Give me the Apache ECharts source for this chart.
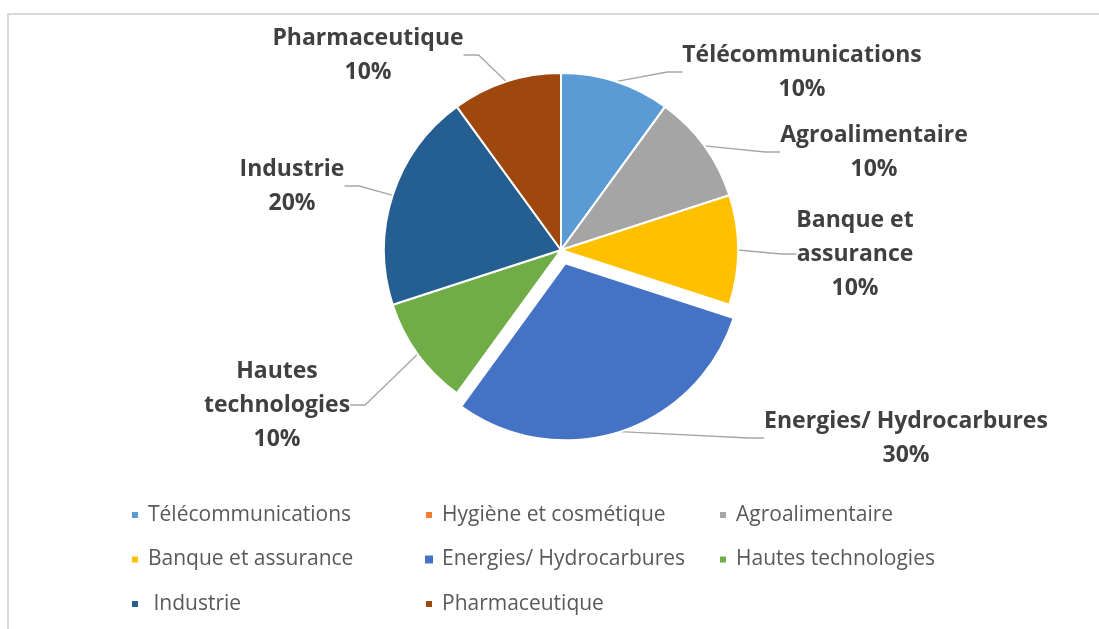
<!DOCTYPE html>
<html>
<head>
<meta charset="utf-8">
<script src="https://cdn.jsdelivr.net/npm/echarts@6/dist/echarts.min.js"></script>
<style>
  html, body { margin: 0; padding: 0; background: #fff; }
  #chart { width: 1099px; height: 629px; }
</style>
</head>
<body>
<div id="chart"></div>
<script>
// données
const categories = ['Télécommunications', 'Hygiène et cosmétique', 'Agroalimentaire',
  'Banque et assurance', 'Energies/ Hydrocarbures', 'Hautes technologies',
  'Industrie', 'Pharmaceutique'];
const shares = [10, 0, 10, 10, 30, 10, 20, 10];
const colors = ['#5B9BD5', '#ED7D31', '#A5A5A5', '#FFC000', '#4472C4', '#70AD47', '#255E91', '#9E480E'];
// libellés coupés sur plusieurs lignes
const wrapped = {
  'Banque et assurance': 'Banque et\nassurance',
  'Hautes technologies': 'Hautes\ntechnologies'
};
const exploded = 'Energies/ Hydrocarbures';

// position des étiquettes (centre du bloc de texte)
const labelPos = {
  'Télécommunications': [802, 72],
  'Agroalimentaire': [874, 152],
  'Banque et assurance': [855, 254],
  'Energies/ Hydrocarbures': [906, 438],
  'Hautes technologies': [277, 405],
  'Industrie': [292, 186],
  'Pharmaceutique': [368, 55]
};

// colonnes de la légende
const legendCols = [
  { left: 130, names: ['Télécommunications', 'Banque et assurance', 'Industrie'] },
  { left: 424, names: ['Hygiène et cosmétique', 'Energies/ Hydrocarbures', 'Pharmaceutique'] },
  { left: 718, names: ['Agroalimentaire', 'Hautes technologies'] }
];

const center = [561, 250];
const radius = 177;
const explodeOffset = 14;

// angle milieu de la part détachée (sens horaire depuis le haut)
const total = shares.reduce((a, b) => a + b, 0);
const ei = categories.indexOf(exploded);
const before = shares.slice(0, ei).reduce((a, b) => a + b, 0);
const midAngle = (before + shares[ei] / 2) / total * 2 * Math.PI;
const explodedCenter = [
  center[0] + Math.sin(midAngle) * explodeOffset,
  center[1] - Math.cos(midAngle) * explodeOffset
];

const hidden = { color: 'rgba(0,0,0,0)', borderWidth: 0 };

// série principale : tout sauf la part détachée
const mainData = categories.map((name, i) => {
  const off = name === exploded || shares[i] === 0;
  return {
    name: name,
    value: shares[i],
    itemStyle: name === exploded ? hidden : { color: colors[i] },
    label: { show: !off },
    labelLine: { show: !off }
  };
});
// série décalée : uniquement la part détachée
const explodedData = categories.map((name, i) => {
  const on = name === exploded;
  return {
    name: name,
    value: shares[i],
    itemStyle: on ? { color: colors[i] } : hidden,
    label: { show: on },
    labelLine: { show: on }
  };
});

const chart = echarts.init(document.getElementById('chart'));

const pieBase = {
  type: 'pie',
  radius: radius,
  startAngle: 90,
  clockwise: true,
  silent: true,
  itemStyle: { borderColor: '#fff', borderWidth: 2 },
  label: {
    position: 'outside',
    formatter: p => (wrapped[p.name] || p.name) + '\n' + p.value + '%',
    fontFamily: 'Open Sans',
    fontWeight: 'bold',
    fontSize: 23,
    lineHeight: 34,
    color: '#404040',
    align: 'center'
  },
  labelLine: {
    show: true,
    length: 15,
    length2: 15,
    lineStyle: { color: '#a6a6a6', width: 1.3 }
  },
  labelLayout: p => {
    const pos = labelPos[categories[p.dataIndex]];
    if (!pos) return {};
    return { x: pos[0], y: pos[1], align: 'center', verticalAlign: 'middle' };
  },
  emphasis: { disabled: true }
};

const option = {
  backgroundColor: '#fff',
  animation: false,
  graphic: [{
    type: 'rect',
    shape: { x: 8, y: 14, width: 1200, height: 700 },
    style: { fill: 'none', stroke: '#d9d9d9', lineWidth: 2 },
    silent: true
  }],
  legend: legendCols.map(col => ({
    orient: 'vertical',
    left: col.left,
    top: 504,
    padding: 0,
    itemGap: 22.5,
    itemWidth: 8,
    itemHeight: 8,
    icon: 'rect',
    selectedMode: false,
    data: col.names.map(n => ({ name: n, itemStyle: { color: colors[categories.indexOf(n)] } })),
    formatter: name => (name === 'Industrie' ? ' ' + name : name),
    textStyle: {
      fontFamily: 'Open Sans',
      fontSize: 21,
      lineHeight: 22,
      padding: [0, 0, 0, 4],
      color: '#595959'
    }
  })),
  series: [
    Object.assign({}, pieBase, { center: center, data: mainData }),
    Object.assign({}, pieBase, { center: explodedCenter, data: explodedData })
  ]
};

chart.setOption(option);
</script>
</body>
</html>
